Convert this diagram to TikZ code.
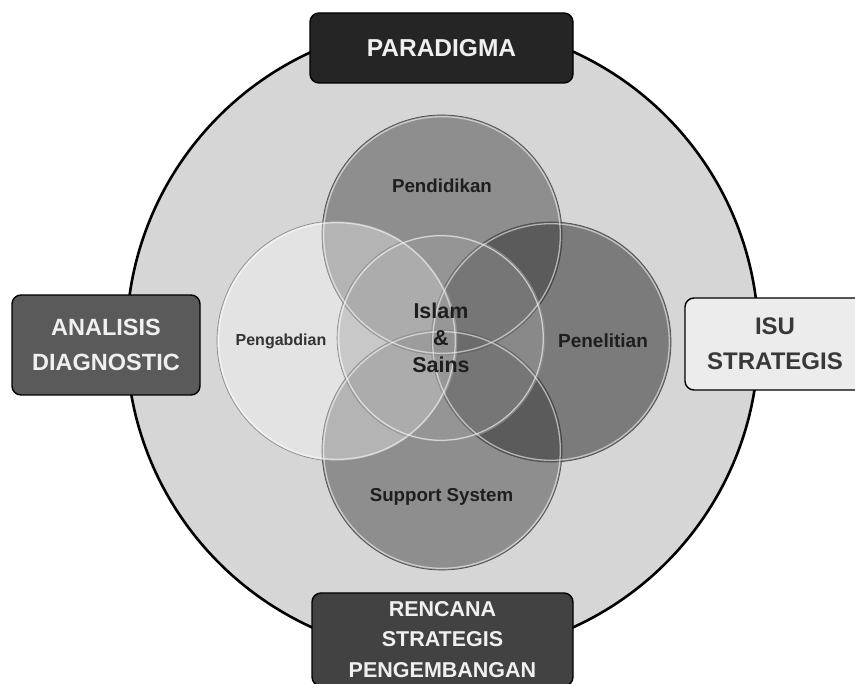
\documentclass[tikz,border=0pt]{standalone}
\usepackage{fontspec}
\setmainfont{Liberation Sans}
\definecolor{ringfill}{HTML}{D6D6D6}
\definecolor{glassdark}{HTML}{343434}
\definecolor{glasscore}{HTML}{A0A0A0}
\definecolor{boxtop}{HTML}{252525}
\definecolor{boxleft}{HTML}{5A5A5A}
\definecolor{boxright}{HTML}{ECECEC}
\definecolor{boxbottom}{HTML}{424242}
\definecolor{labelink}{HTML}{1E1E1E}
\begin{document}
\begin{tikzpicture}[x=1pt,y=-1pt,
  every node/.style={inner sep=0pt, outer sep=0pt},
  disc/.style={circle, minimum size=240pt, draw=black!70, line width=0.7pt},
  tagbox/.style={rounded corners=9pt, draw=black, line width=1.4pt, align=center},
  lbl/.style={text=labelink, font=\fontsize{18.7}{22}\selectfont\bfseries}
]
\useasboundingbox (0,0) rectangle (855,684);
\clip (0,0) rectangle (855,684);
\fill[white] (0,0) rectangle (855,684);

% outer ring
\node[circle, minimum size=632pt, fill=ringfill, draw=black, line width=2.6pt] (ring) at (442.5,339.5) {};

% the four overlapping glass discs and the core
\node[disc, fill=glassdark, fill opacity=0.44] (pend) at (442,235) {};
\node[disc, fill=glassdark, fill opacity=0.44] (supp) at (442,450) {};
\node[disc, fill=glassdark, fill opacity=0.56] (pene) at (551,342) {};
\node[disc, fill=white, fill opacity=0.34, draw=black!45] (peng) at (337,341) {};
\node[circle, minimum size=208pt, fill=glasscore, fill opacity=0.4, draw=black!45, line width=0.6pt] (core) at (441,338) {};

% glassy rims
\foreach \d in {pend,supp,pene,peng}
  \draw[white, opacity=0.55, line width=1.3pt] (\d.center) circle (118.3pt);
\draw[white, opacity=0.6, line width=1.3pt] (core.center) circle (102.3pt);

% disc labels
\node[lbl] (tpend) at (442,185.5) {Pendidikan};
\node[lbl, font=\fontsize{19}{22}\selectfont\bfseries] (tpene) at (603,340.5) {Penelitian};
\node[lbl, text=black!80, font=\fontsize{16}{20}\selectfont\bfseries] (tpeng) at (281,341) {Pengabdian};
\node[lbl] (tsupp) at (441.5,496.5) {Support System};
\node[lbl, align=center, font=\fontsize{21.5}{27}\selectfont\bfseries] (tcore) at (441,338) {Islam\\\&\\Sains};

% corner boxes
\node[tagbox, fill=boxtop, text=white!94!black, minimum width=263pt, minimum height=70pt, font=\fontsize{24.5}{30}\selectfont\bfseries] (par) at (441.5,48) {PARADIGMA};
\node[tagbox, fill=boxleft, text=white!94!black, minimum width=188pt, minimum height=100pt, font=\fontsize{23.5}{35}\selectfont\bfseries] (ana) at (106,345) {ANALISIS\\DIAGNOSTIC};
\node[tagbox, fill=boxright, text=black!78, minimum width=180pt, minimum height=92pt, font=\fontsize{24}{35}\selectfont\bfseries] (isu) at (775,344) {ISU\\STRATEGIS};
\node[tagbox, fill=boxbottom, text=white!94!black, minimum width=261pt, minimum height=93pt, font=\fontsize{21.5}{30.5}\selectfont\bfseries] (ren) at (442.5,639.5) {RENCANA\\STRATEGIS\\PENGEMBANGAN};
\end{tikzpicture}
\end{document}
